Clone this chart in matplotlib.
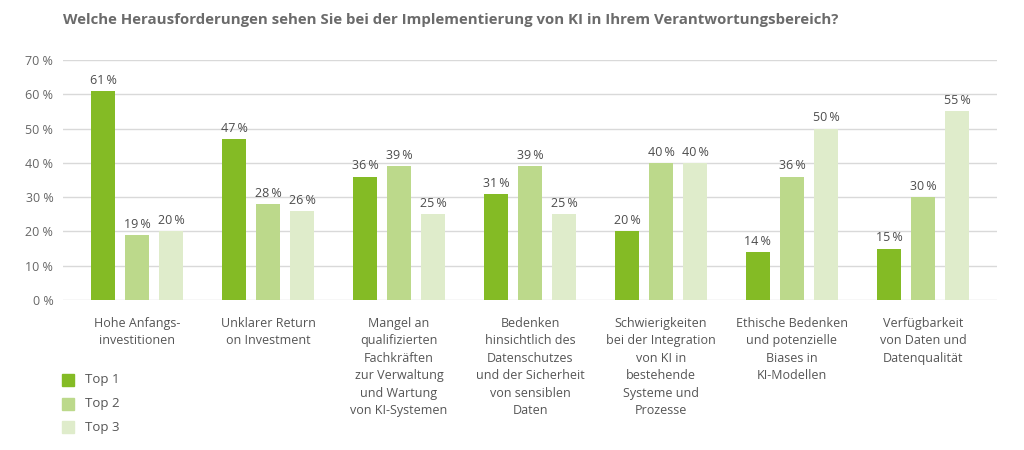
import numpy as np
import matplotlib.pyplot as plt
from matplotlib.patches import Rectangle

plt.rcParams['font.family'] = ['Open Sans', 'DejaVu Sans']

kategorien = [
    "Hohe Anfangs-\ninvestitionen",
    "Unklarer Return\non Investment",
    "Mangel an\nqualifizierten\nFachkräften\nzur Verwaltung\nund Wartung\nvon KI-Systemen",
    "Bedenken\nhinsichtlich des\nDatenschutzes\nund der Sicherheit\nvon sensiblen\nDaten",
    "Schwierigkeiten\nbei der Integration\nvon KI in\nbestehende\nSysteme und\nProzesse",
    "Ethische Bedenken\nund potenzielle\nBiases in\nKI-Modellen",
    "Verfügbarkeit\nvon Daten und\nDatenqualität",
]
top1 = [61, 47, 36, 31, 20, 14, 15]
top2 = [19, 28, 39, 39, 40, 36, 30]
top3 = [20, 26, 25, 25, 40, 50, 55]
serien = ["Top 1", "Top 2", "Top 3"]
farben = ["#84bb25", "#bcd98b", "#dfeccb"]
y_ticks = [0, 10, 20, 30, 40, 50, 60, 70]

grau = "#555555"

fig = plt.figure(figsize=(10.24, 4.5), dpi=100)
ax = fig.add_axes([63 / 1024, 1 - 300 / 450, (997 - 63) / 1024, 240 / 450])

x = np.arange(len(kategorien))
breite = 0.178
abstand = 0.26

for i, (werte, farbe) in enumerate(zip([top1, top2, top3], farben)):
    pos = x + (i - 1) * abstand
    ax.bar(pos, werte, width=breite, color=farbe, zorder=3)
    for p, w in zip(pos, werte):
        ax.text(p, w + 1.2, f"{w}\u2009%", ha='center', va='bottom',
                fontsize=9, color='#4d4d4d', zorder=4)

ax.set_xlim(-0.565, len(kategorien) - 1 + 0.565)
ax.set_ylim(0, 70)
ax.set_yticks(y_ticks)
ax.set_yticklabels([f"{t} %" for t in y_ticks])
ax.grid(axis='y', color='#d9d9d9', linewidth=1, zorder=0)
ax.tick_params(axis='y', length=0, labelsize=9, labelcolor='#666666', pad=7)
ax.set_xticks(x)
ax.set_xticklabels(kategorien, fontsize=9, color=grau, linespacing=1.45)
ax.tick_params(axis='x', length=0, pad=12)
for s in ax.spines.values():
    s.set_visible(False)

fig.text(63 / 1024, 1 - 20 / 450, "Welche Herausforderungen sehen Sie bei der Implementierung von KI in Ihrem Verantwortungsbereich?",
         fontsize=10.8, fontweight='bold', color='#6b6b6b', va='center', ha='left')

# Legende
for i, (name, farbe) in enumerate(zip(serien, farben)):
    yc = 380 + i * 23.5
    fig.patches.append(Rectangle((62 / 1024, 1 - (yc + 6) / 450), 12 / 1024, 12 / 450,
                                 transform=fig.transFigure, color=farbe, figure=fig))
    fig.text(85 / 1024, 1 - yc / 450, name, fontsize=9.5, color=grau, va='center', ha='left')

plt.savefig('out.png', dpi=100)
plt.close()
